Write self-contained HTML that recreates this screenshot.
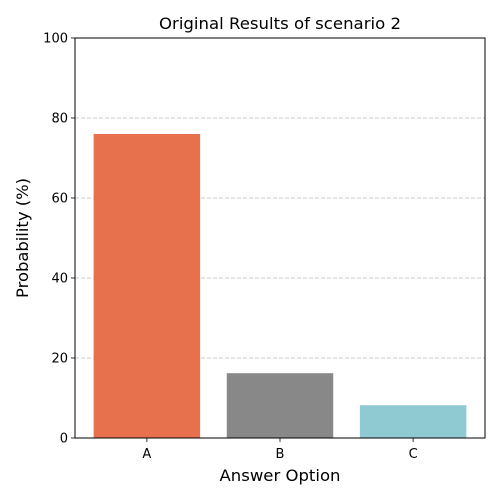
<!DOCTYPE html>
<html><head><meta charset="utf-8"><style>body{margin:0;background:#fff}svg{display:block;font-family:"DejaVu Sans","Liberation Sans",sans-serif}</style></head>
<body>
<svg id="c" width="500" height="500"></svg>
<script>
const categories = ["A","B","C"];
const values = [76, 16.2, 8.2];
const colors = ["#e8714d","#888888","#8fc9d1"];
const yTicks = [0,20,40,60,80,100];
const L=75,R=485,T=38,B=438;
const xmin=-0.54,xmax=2.54;
const xs=v=>L+(v-xmin)/(xmax-xmin)*(R-L);
const ys=v=>B-(v/100)*(B-T);
const svg=document.getElementById('c');
const NS='http://www.w3.org/2000/svg';
function mk(tag,attrs,text){const e=document.createElementNS(NS,tag);for(const k in attrs)e.setAttribute(k,attrs[k]);if(text!==undefined)e.textContent=text;svg.appendChild(e);return e;}
yTicks.forEach(t=>{
  const y=ys(t);
  if(t>0&&t<100){const g=mk('line',{x1:L,x2:R,y1:y,y2:y,stroke:'#bbbbbb','stroke-dasharray':'4,2','stroke-width':0.8});
  
  }
  const tk=mk('line',{x1:L-4,x2:L,y1:y,y2:y,stroke:'#000','stroke-width':0.8});
  
  
  const lb=mk('text',{x:L-7,y:y+4.5,'text-anchor':'end','font-size':13},t);
  
  
});
categories.forEach((c,i)=>{
  const x0=xs(i-0.4),x1=xs(i+0.4);
  const r=mk('rect',{x:x0,y:ys(values[i]),width:x1-x0,height:ys(0)-ys(values[i]),fill:colors[i]});
  
  
  const tk=mk('line',{x1:xs(i),x2:xs(i),y1:B,y2:B+4,stroke:'#000','stroke-width':0.8});
  
  
  const lb=mk('text',{x:xs(i),y:B+20,'text-anchor':'middle','font-size':13},c);
  
  
});
const f=mk('rect',{x:L,y:T,width:R-L,height:B-T,fill:'none',stroke:'#000','stroke-width':1});


const tt=mk('text',{x:(L+R)/2,y:29,'text-anchor':'middle','font-size':16,textLength:242,lengthAdjust:'spacingAndGlyphs'},'Original Results of scenario 2');


const xt=mk('text',{x:(L+R)/2,y:481,'text-anchor':'middle','font-size':16,textLength:121,lengthAdjust:'spacingAndGlyphs'},'Answer Option');


const yt=mk('text',{x:0,y:0,'text-anchor':'middle','font-size':16,textLength:120,lengthAdjust:'spacingAndGlyphs',transform:'translate(28,238) rotate(-90)'},'Probability (%)');


</script>
</body></html>
